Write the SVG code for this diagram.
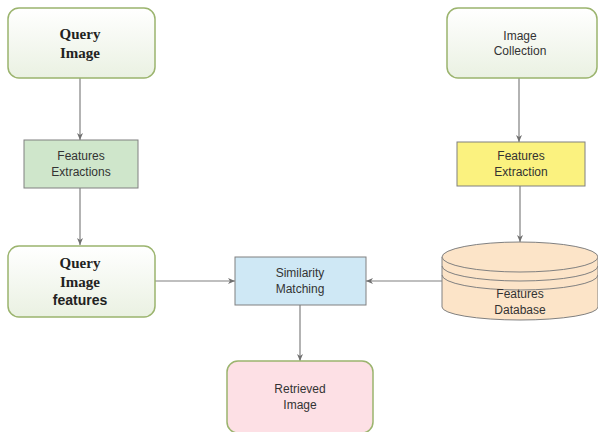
<svg xmlns="http://www.w3.org/2000/svg" width="598" height="432" viewBox="0 0 598 432">
<defs>
<linearGradient id="gg" x1="0" y1="0" x2="0" y2="1"><stop offset="0" stop-color="#ffffff"/><stop offset="1" stop-color="#eaf1e2"/></linearGradient>
<marker id="ah" markerWidth="8" markerHeight="8" refX="7" refY="4" orient="auto" markerUnits="userSpaceOnUse"><path d="M0,1 L7,4 L0,7 L2,4 z" fill="#707070"/></marker>
</defs>
<style>
.rr{fill:url(#gg);stroke:#9bb46e;stroke-width:1.5}
.t{font-family:"Liberation Sans",Arial,sans-serif;font-size:12px;fill:#333;text-anchor:middle}
.s{font-family:"Liberation Serif","Times New Roman",serif;font-size:15px;font-weight:bold;fill:#222;text-anchor:middle}
.c line{stroke:#808080;stroke-width:1.2;marker-end:url(#ah)}
.bx{stroke:#808080;stroke-width:1}
</style>
<rect width="598" height="432" fill="#fff"/>
<g class="c">
<line x1="80" y1="78" x2="80" y2="140"/>
<line x1="80" y1="188" x2="80" y2="245"/>
<line x1="519" y1="78" x2="519" y2="142"/>
<line x1="520" y1="186" x2="520" y2="242"/>
<line x1="155" y1="281" x2="235" y2="281"/>
<line x1="442" y1="281" x2="366" y2="281"/>
<line x1="300" y1="305" x2="300" y2="361"/>
</g>
<g id="query-image"><rect class="rr" x="8" y="8" width="147" height="70" rx="11"/><text class="s" x="80" y="39">Query</text><text class="s" x="80" y="58">Image</text></g>
<g id="image-collection"><rect class="rr" x="447" y="8" width="150" height="70" rx="11"/><text class="t" x="520" y="40">Image</text><text class="t" x="520" y="55">Collection</text></g>
<g id="features-extractions"><rect class="bx" x="24" y="140" width="114" height="48" fill="#cfe6cb"/><text class="t" x="81" y="160">Features</text><text class="t" x="81" y="176">Extractions</text></g>
<g id="features-extraction"><rect class="bx" x="457" y="142" width="128" height="44" fill="#fbf27f"/><text class="t" x="521" y="160">Features</text><text class="t" x="521" y="176">Extraction</text></g>
<g id="query-image-features"><rect class="rr" x="8" y="246" width="147" height="71" rx="11"/><text class="s" x="80" y="268">Query</text><text class="s" x="80" y="287">Image</text><text x="80" y="305" font-family="Liberation Sans,Arial,sans-serif" font-size="14" font-weight="bold" fill="#222" text-anchor="middle">features</text></g>
<g id="similarity-matching"><rect class="bx" x="235" y="257" width="131" height="48" fill="#cfe8f5"/><text class="t" x="300" y="277">Similarity</text><text class="t" x="300" y="293">Matching</text></g>
<g id="features-database">
<path d="M442,257 L442,307 A78,13 0 0 0 598,307 L598,257" fill="#fce4c8" stroke="#808080"/>
<ellipse cx="520" cy="257" rx="78" ry="15" fill="#fce4c8" stroke="#808080"/>
<path d="M442,266 A78,15 0 0 0 598,266 M442,275 A78,15 0 0 0 598,275" fill="none" stroke="#808080"/>
<text class="t" x="520" y="298">Features</text><text class="t" x="520" y="314">Database</text>
</g>
<g id="retrieved-image"><rect x="227" y="361" width="146" height="72" rx="11" fill="#fde0e5" stroke="#9bb46e" stroke-width="1.5"/><text class="t" x="300" y="393">Retrieved</text><text class="t" x="300" y="409">Image</text></g>
</svg>
